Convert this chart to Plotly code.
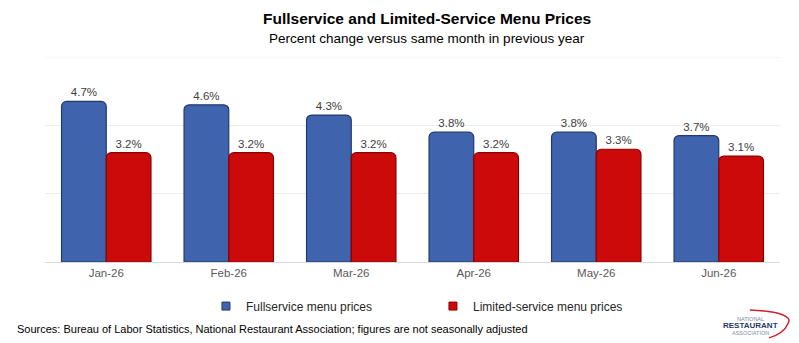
import plotly.graph_objects as go

months = ["Jan-26", "Feb-26", "Mar-26", "Apr-26", "May-26", "Jun-26"]
fullservice = [4.7, 4.6, 4.3, 3.8, 3.8, 3.7]
limited = [3.2, 3.2, 3.2, 3.2, 3.3, 3.1]
labels_full = ["4.7%", "4.6%", "4.3%", "3.8%", "3.8%", "3.7%"]
labels_lim = ["3.2%", "3.2%", "3.2%", "3.2%", "3.3%", "3.1%"]

FONT = "Liberation Sans, Arial, sans-serif"
BLUE = "#3F63AD"
RED = "#CC0A0A"

fig = go.Figure()
fig.add_trace(go.Bar(
    x=months, y=fullservice, name="Fullservice menu prices", showlegend=False,
    text=labels_full, textposition="outside", cliponaxis=False,
    textfont=dict(size=11.5, color="#404040", family=FONT),
    marker=dict(color=BLUE, line=dict(color="#22396E", width=1.2)),
))
fig.add_trace(go.Bar(
    x=months, y=limited, name="Limited-service menu prices", showlegend=False,
    text=labels_lim, textposition="outside", cliponaxis=False,
    textfont=dict(size=11.5, color="#404040", family=FONT),
    marker=dict(color=RED, line=dict(color="#8A0000", width=1.2)),
))
# legend entries (small square symbols like the reference)
fig.add_trace(go.Scatter(x=[None], y=[None], mode="markers", name="Fullservice menu prices",
                         marker=dict(symbol="square", size=8, color=BLUE,
                                     line=dict(color="#22396E", width=1))))
fig.add_trace(go.Scatter(x=[None], y=[None], mode="markers", name="Limited-service menu prices",
                         marker=dict(symbol="square", size=8, color=RED,
                                     line=dict(color="#8A0000", width=1))))

fig.update_layout(
    width=799, height=343,
    margin=dict(l=45, r=19, t=57, b=81),
    paper_bgcolor="white", plot_bgcolor="white",
    barmode="group", bargap=0.27, bargroupgap=0.0, barcornerradius=5,
    font=dict(family=FONT, color="#404040"),
    showlegend=True,
    legend=dict(orientation="h", x=0.219, xanchor="left", y=-0.215, yanchor="middle",
                font=dict(size=12, color="#262626", family=FONT),
                entrywidth=182, itemwidth=30, traceorder="normal",
                bgcolor="rgba(0,0,0,0)"),
    xaxis=dict(showgrid=False, showline=True, linecolor="#D9D9D9", linewidth=1,
               ticks="", tickfont=dict(size=11.5, color="#595959", family=FONT)),
    yaxis=dict(range=[0, 6], dtick=2, showgrid=True, gridcolor="#EDEDED",
               showticklabels=False, zeroline=False, showline=False),
)

# top gridline
fig.add_shape(type="line", xref="paper", yref="y", x0=0, x1=1, y0=6, y1=6,
              line=dict(color="#EDEDED", width=1), layer="below")

fig.add_annotation(text="<b>Fullservice and Limited-Service Menu Prices</b>",
                   xref="paper", yref="paper", x=0.52, y=1.0, yshift=39,
                   showarrow=False, xanchor="center", yanchor="middle",
                   font=dict(size=15.5, color="#000000", family=FONT))
fig.add_annotation(text="Percent change versus same month in previous year",
                   xref="paper", yref="paper", x=0.52, y=1.0, yshift=19,
                   showarrow=False, xanchor="center", yanchor="middle",
                   font=dict(size=13.5, color="#000000", family=FONT))
fig.add_annotation(text="Sources: Bureau of Labor Statistics, National Restaurant Association; figures are not seasonally adjusted",
                   xref="paper", yref="paper", x=-0.041, y=0, yshift=-67,
                   showarrow=False, xanchor="left", yanchor="middle",
                   font=dict(size=11, color="#000000", family=FONT))

# logo
fig.add_annotation(text="NATIONAL", xref="paper", yref="paper", x=0.9605, y=0, yshift=-57,
                   showarrow=False, xanchor="center", yanchor="middle",
                   font=dict(size=5.5, color="#7A8BA8", family=FONT))
fig.add_annotation(text="<b>RESTAURANT</b>", xref="paper", yref="paper", x=0.9605, y=0, yshift=-63.5,
                   showarrow=False, xanchor="center", yanchor="middle",
                   font=dict(size=8, color="#1F3A6E", family=FONT))
fig.add_annotation(text="ASSOCIATION", xref="paper", yref="paper", x=0.9605, y=0, yshift=-70.5,
                   showarrow=False, xanchor="center", yanchor="middle",
                   font=dict(size=5.5, color="#7A8BA8", family=FONT))
fig.add_shape(type="path", xref="paper", yref="paper",
              path="M 0.959,-0.234 Q 1.02,-0.245 1.011,-0.30 Q 1.005,-0.35 0.985,-0.37",
              line=dict(color="#D0202E", width=1.5))

fig.write_html("out.html")
